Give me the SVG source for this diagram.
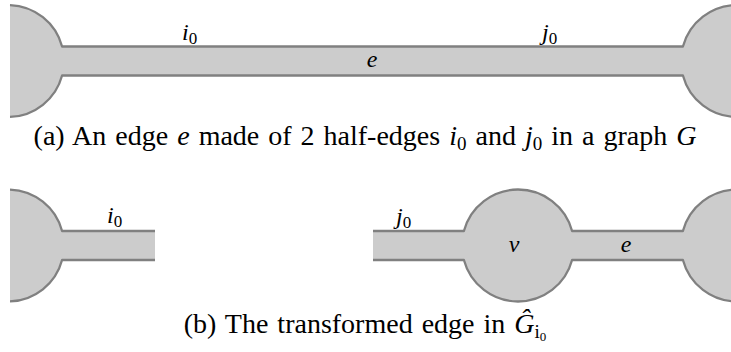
<svg xmlns="http://www.w3.org/2000/svg" width="731" height="352" viewBox="0 0 731 352">
<style>
.fill{fill:#cccccc;stroke:none}
.edge{fill:none;stroke:#808080;stroke-width:2.3;stroke-linejoin:round}
.lbl{font-family:"Liberation Serif","Times New Roman",serif;font-style:italic;font-size:24px;fill:#000}
.sub{font-style:normal;font-size:17px}
.cap{font-family:"Liberation Serif","Times New Roman",serif;font-size:28px;fill:#000;word-spacing:2px}
.m{font-style:italic}
.cs{font-style:normal;font-size:19px}
</style>
<rect width="731" height="352" fill="#ffffff"/>
<g id="graph-a">
  <path class="fill" d="M10,5.04 A56,56 0 0 1 62.09,46.5 L682.91,46.5 A56,56 0 0 1 737,5 L740,5 L740,117 L737,117 A56,56 0 0 1 682.91,75.5 L62.09,75.5 A56,56 0 0 1 10,116.96 Z"/>
  <g id="connectors-a">
    <path class="edge" d="M10,5.04 A56,56 0 0 1 62.09,46.5 L682.91,46.5 A56,56 0 0 1 737,5"/>
    <path class="edge" d="M737,117 A56,56 0 0 1 682.91,75.5 L62.09,75.5 A56,56 0 0 1 10,116.96"/>
  </g>
  <text class="lbl" x="182" y="40">i<tspan class="sub" dy="4">0</tspan></text>
  <text class="lbl" x="542" y="40">j<tspan class="sub" dy="4">0</tspan></text>
  <text class="lbl" x="372" y="67" text-anchor="middle">e</text>
</g>
<text class="cap" x="365" y="145" text-anchor="middle">(a) An edge <tspan class="m">e</tspan> made of 2 half-edges <tspan class="m">i</tspan><tspan class="cs" dy="5">0</tspan><tspan dy="-5"> and </tspan><tspan class="m">j</tspan><tspan class="cs" dy="5">0</tspan><tspan dy="-5"> in a graph </tspan><tspan class="m">G</tspan></text>
<g id="graph-b">
  <g id="node-left">
    <path class="fill" d="M10,189.54 A56,56 0 0 1 62.09,231 L155,231 L155,260 L62.09,260 A56,56 0 0 1 10,301.46 Z"/>
    <path class="edge" d="M10,189.54 A56,56 0 0 1 62.09,231 L155,231"/>
    <path class="edge" d="M155,260 L62.09,260 A56,56 0 0 1 10,301.46"/>
    <text class="lbl" x="107" y="223">i<tspan class="sub" dy="4">0</tspan></text>
  </g>
  <g id="node-v">
    <path class="fill" d="M373,231 L463.91,231 A56,56 0 0 1 572.09,231 L682.91,231 A56,56 0 0 1 737,189.5 L740,189.5 L740,301.5 L737,301.5 A56,56 0 0 1 682.91,260 L572.09,260 A56,56 0 0 1 463.91,260 L373,260 Z"/>
    <path class="edge" d="M373,231 L463.91,231 A56,56 0 0 1 572.09,231 L682.91,231 A56,56 0 0 1 737,189.5"/>
    <path class="edge" d="M737,301.5 A56,56 0 0 1 682.91,260 L572.09,260 A56,56 0 0 1 463.91,260 L373,260"/>
    <text class="lbl" x="396" y="224">j<tspan class="sub" dy="4">0</tspan></text>
    <text class="lbl" x="514" y="252" text-anchor="middle">v</text>
    <text class="lbl" x="626" y="252" text-anchor="middle">e</text>
  </g>
</g>
<text class="cap" x="365" y="333" text-anchor="middle">(b) The transformed edge in <tspan class="m">Ĝ</tspan><tspan class="cs m" dy="5">i</tspan><tspan class="cs" dy="3" style="font-size:13px">0</tspan></text>
</svg>
